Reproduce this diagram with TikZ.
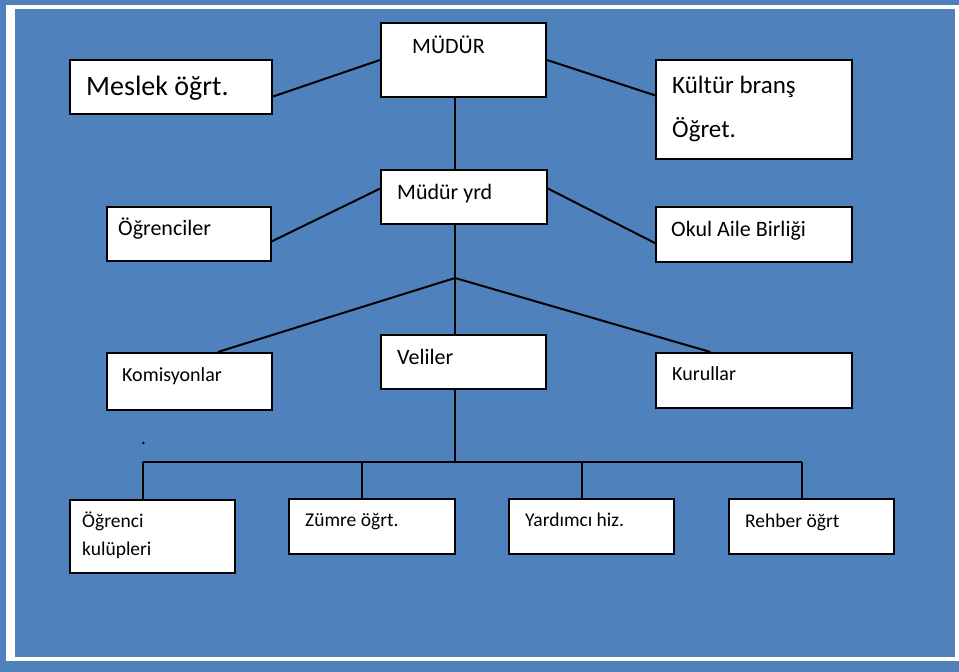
\documentclass[tikz,border=0pt]{standalone}
\usepackage{fontspec}
\setmainfont{Carlito}
\usetikzlibrary{calc}
\definecolor{pageblue}{RGB}{79,129,189}

\tikzset{
  box/.style={draw=black, line width=2pt, fill=white, anchor=north west, inner sep=0pt},
  lbl/.style={anchor=base west, inner sep=0pt, align=left},
  wire/.style={line width=2pt}
}

\begin{document}
\begin{tikzpicture}[x=1pt,y=-1pt]

\useasboundingbox (0,0) rectangle (959,672);
\fill[pageblue] (0,0) rectangle (959,672);
\draw[white, line width=4pt] (8,7) rectangle (957,659);
\fill[white] (6,5) rectangle (15,661);

% boxes
\node[box, minimum width=165pt, minimum height=74pt] (mudur) at (380,22) {};
\node[box, minimum width=202pt, minimum height=54pt] (meslek) at (69,59) {};
\node[box, minimum width=196pt, minimum height=99pt] (kultur) at (655,59) {};
\node[box, minimum width=166pt, minimum height=54pt] (yrd) at (380,169) {};
\node[box, minimum width=164pt, minimum height=54pt] (ogrenci) at (106,206) {};
\node[box, minimum width=196pt, minimum height=55pt] (aile) at (655,206) {};
\node[box, minimum width=165pt, minimum height=54pt] (veli) at (380,334) {};
\node[box, minimum width=165pt, minimum height=57pt] (komis) at (106,352) {};
\node[box, minimum width=196pt, minimum height=55pt] (kurul) at (655,352) {};
\node[box, minimum width=165pt, minimum height=73pt] (kulup) at (69,499) {};
\node[box, minimum width=166pt, minimum height=55pt] (zumre) at (288,498) {};
\node[box, minimum width=165pt, minimum height=55pt] (yardim) at (508,498) {};
\node[box, minimum width=165pt, minimum height=55pt] (rehber) at (728,498) {};

% texts (two-line ones sit on their last baseline)
\node[lbl, font=\fontsize{22}{26}\selectfont] (mudurtxt) at (412,53) {MÜDÜR};
\node[lbl, font=\fontsize{28}{32}\selectfont] (mesleknm) at (86,95) {Meslek öğrt.};
\node[lbl, font=\fontsize{25}{44}\selectfont] (kulturnm) at (672,137) {Kültür branş\\Öğret.};
\node[lbl, font=\fontsize{22}{26}\selectfont] (yrdtxt) at (397,199) {Müdür yrd};
\node[lbl, font=\fontsize{22}{26}\selectfont] (ogrencitxt) at (118,235) {Öğrenciler};
\node[lbl, font=\fontsize{22}{26}\selectfont] (ailetxt) at (671,236) {Okul Aile Birliği};
\node[lbl, font=\fontsize{22}{26}\selectfont] (velitxt) at (397,364) {Veliler};
\node[lbl, font=\fontsize{20}{24}\selectfont] (komistxt) at (122,381) {Komisyonlar};
\node[lbl, font=\fontsize{20}{24}\selectfont] (kurultxt) at (672,380) {Kurullar};
\node[lbl, font=\fontsize{19.5}{28}\selectfont] (kuluptxt) at (82,555) {Öğrenci\\kulüpleri};
\node[lbl, font=\fontsize{19.5}{23}\selectfont] (zumretxt) at (305,526) {Zümre öğrt.};
\node[lbl, font=\fontsize{19.5}{23}\selectfont] (yardimtxt) at (525,526) {Yardımcı hiz.};
\node[lbl, font=\fontsize{19.5}{23}\selectfont] (rehbertxt) at (745,527) {Rehber öğrt};
\node[lbl, font=\fontsize{19}{23}\selectfont] (dot) at (141,444) {.};

% top level
\coordinate (split) at (455,278);
\draw[wire] ($(meslek.north east)!.67!(meslek.south east)$) -- (mudur.west);
\draw[wire] (mudur.east) -- ($(kultur.north west)!.36!(kultur.south west)$);
\draw[wire] (split |- mudur.south) -- (split |- yrd.north);
\draw[wire] ($(ogrenci.north east)!.63!(ogrenci.south east)$) -- ($(yrd.north west)!.35!(yrd.south west)$);
\draw[wire] ($(yrd.north east)!.35!(yrd.south east)$) -- ($(aile.north west)!.65!(aile.south west)$);

% middle split
\draw[wire] (split |- yrd.south) -- (split);
\draw[wire] (split) -- ($(komis.north west)!.67!(komis.north east)$);
\draw[wire] (split) -- (split |- veli.north);
\draw[wire] (split) -- ($(kurul.north west)!.28!(kurul.north east)$);

% bottom bus
\coordinate (bus) at (455,462);
\coordinate (b1) at (143,462);
\coordinate (b2) at (362,462);
\coordinate (b3) at (582,462);
\coordinate (b4) at (802,462);
\draw[wire] (bus |- veli.south) -- (bus);
\draw[wire] (b1) -- (b4);
\draw[wire] (b1) -- (b1 |- kulup.north);
\draw[wire] (b2) -- (b2 |- zumre.north);
\draw[wire] (b3) -- (b3 |- yardim.north);
\draw[wire] (b4) -- (b4 |- rehber.north);

\end{tikzpicture}
\end{document}
